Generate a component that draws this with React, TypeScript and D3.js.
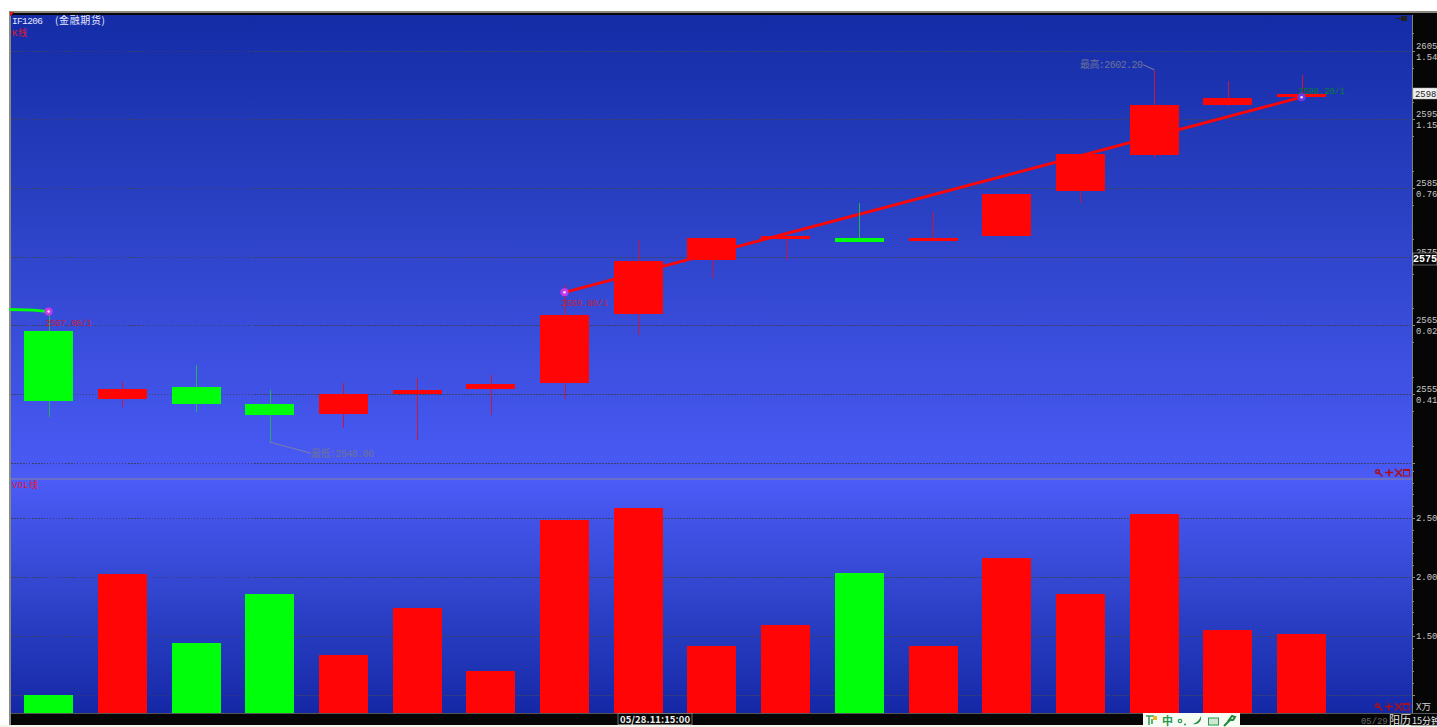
import React from "react";
import * as d3 from "d3";

const opens = [2564.1, 2554.2, 2556.0, 2553.55, 2552.1, 2555.0, 2555.7, 2556.6, 2566.65, 2574.5, 2577.7, 2577.7, 2577.35, 2578.05, 2584.5, 2589.8, 2597.05, 2598.35];
const closes = [2554.0, 2555.7, 2553.6, 2551.9, 2555.0, 2555.65, 2556.45, 2566.5, 2574.35, 2577.7, 2578.0, 2577.1, 2577.7, 2584.1, 2589.9, 2597.05, 2598.1, 2598.65];
const highs = [2567.2, 2556.75, 2559.2, 2555.6, 2556.6, 2557.3, 2557.75, 2570.9, 2577.4, 2577.7, 2578.1, 2582.8, 2581.5, 2584.1, 2589.9, 2602.2, 2600.55, 2601.5];
const lows = [2551.65, 2553.1, 2552.4, 2548.0, 2550.05, 2548.3, 2551.95, 2554.3, 2563.6, 2571.9, 2574.5, 2577.1, 2577.3, 2578.0, 2582.8, 2589.35, 2596.9, 2598.3];
const volumes = [1.0, 2.025, 1.44, 1.855, 1.34, 1.74, 1.2, 2.48, 2.585, 1.415, 1.595, 2.035, 1.415, 2.16, 1.855, 2.535, 1.55, 1.515];
const volumeUp = [false, true, false, false, true, true, true, true, true, true, true, false, true, true, true, true, true, true];
const redLineIdx = [7, 17];
const redLinePrices = [2569.8, 2598.2];
const greenLineIdx = [-0.53, -0.2, 0];
const greenLinePrices = [2567.3, 2567.2, 2567.0];
const priceGrid = [2605, 2595, 2585, 2575, 2565, 2555, 2545];
const priceTickLabels = ["2605", "2595", "2585", "2575", "2565", "2555"];
const pctTickLabels = ["1.54", "1.15", "0.76", "", "0.02", "0.41"];
const priceMinor = d3.range(2545, 2610, 5);
const volTicks = [2.5, 2.0, 1.5, 1.0];
const volTickLabels = ["2.50", "2.00", "1.50", ""];
const volMinor = [2.9, 2.8, 2.7, 2.6, 2.4, 2.3, 2.2, 2.1, 1.9, 1.8, 1.7, 1.6, 1.4, 1.3, 1.2, 1.1];

const MONO = "'Liberation Mono','Noto Sans CJK SC',monospace";
const CJK = "'Noto Sans CJK SC','Liberation Mono',monospace";

const x = d3.scaleLinear().domain([0, 17]).range([48.6, 1301.6]);
const y = d3.scaleLinear().domain([2555, 2605]).range([394, 50.5]);
const yv = d3.scaleLinear().domain([1.5, 2.5]).range([636, 518]);
const BW = 49;
const RIGHT = 1412;
const line = d3.line<[number, number]>().x(d => x(d[0])).y(d => y(d[1]));
const GREEN = "#00ff0a";
const RED = "#ff0505";

function Tools({ tx, ty }: { tx: number; ty: number }) {
  const c = "#a8101c";
  return (
    <g transform={`translate(${tx},${ty})`} fill="none" stroke={c} strokeWidth={1.6} shapeRendering="auto">
      <circle cx={2.5} cy={2.5} r={1.8} />
      <path d="M4 4L7.5 7.5" />
      <path d="M10 3.5H18M14 0V7.5" />
      <path d="M20 0L27 7.5M27 0L20 7.5" />
      <rect x={28.5} y={0.5} width={6} height={6.5} strokeWidth={1} />
      <path d="M28.5 1.5H34.5" strokeWidth={1} />
    </g>
  );
}

function Marker({ cx, cy, fill }: { cx: number; cy: number; fill: string }) {
  return (
    <g>
      <circle cx={cx} cy={cy} r={4} fill={fill} />
      <circle cx={cx} cy={cy} r={1.3} fill="#f4d8ff" />
    </g>
  );
}

function AxisText({ tx, ty, children, fill = "#c8c8c8" }: any) {
  return <text x={tx} y={ty} fontFamily={MONO} fontSize={8.9} fill={fill}>{children}</text>;
}

export default function App() {
  return (
    <svg width={1437} height={727} style={{ position: "absolute", left: 0, top: 0, background: "#fff", display: "block" }} shapeRendering="crispEdges">
      <defs>
        <linearGradient id="g1" x1="0" y1="0" x2="0" y2="1">
          <stop offset="0" stopColor="#142ca6" />
          <stop offset="0.45" stopColor="#2c42c6" />
          <stop offset="1" stopColor="#4a5bf6" />
        </linearGradient>
        <linearGradient id="g2" x1="0" y1="0" x2="0" y2="1">
          <stop offset="0" stopColor="#4c5cf8" />
          <stop offset="0.5" stopColor="#3044cc" />
          <stop offset="1" stopColor="#1428a6" />
        </linearGradient>
      </defs>

      {/* frame */}
      <rect x={0} y={725} width={1437} height={2} fill="#f5f4ea" />
      <rect x={9} y={11} width={1428} height={714} fill="#060606" />
      <rect x={9} y={11} width={1428} height={1.5} fill="#8a8a80" />
      <rect x={9} y={11} width={1.5} height={714} fill="#8a8a80" />
      <rect x={10.5} y={15} width={RIGHT - 10.5} height={463} fill="url(#g1)" />
      <rect x={10.5} y={478} width={RIGHT - 10.5} height={235} fill="url(#g2)" />
      <rect x={10.5} y={478} width={RIGHT - 10.5} height={1.5} fill="#6a70c8" />
      <rect x={10.5} y={713} width={1426} height={1} fill="#555" />
      <rect x={RIGHT} y={15} width={1} height={698} fill="#808080" />
      <path d="M10 12h4l-4 4z" fill="#e01818" />

      {/* grid */}
      <g stroke="#3a3f6e" strokeDasharray="1.5 1.5" strokeWidth={1}>
        {priceGrid.map(p => <line key={p} x1={11} x2={RIGHT} y1={Math.round(y(p))} y2={Math.round(y(p))} />)}
        {volTicks.map(v => <line key={v} x1={11} x2={RIGHT} y1={Math.round(yv(v))} y2={Math.round(yv(v))} />)}
      </g>

      {/* axis ticks */}
      <g stroke="#888" strokeWidth={1}>
        {priceMinor.map(p => <line key={p} x1={RIGHT} x2={RIGHT + 2} y1={Math.round(y(p + 2.5))} y2={Math.round(y(p + 2.5))} />)}
        {priceGrid.map(p => <line key={p} x1={RIGHT} x2={RIGHT + 3} y1={Math.round(y(p))} y2={Math.round(y(p))} />)}
        {volTicks.map(v => <line key={v} x1={RIGHT} x2={RIGHT + 3} y1={Math.round(yv(v))} y2={Math.round(yv(v))} />)}
        {volMinor.map(v => <line key={v} x1={RIGHT} x2={RIGHT + 2} y1={Math.round(yv(v))} y2={Math.round(yv(v))} />)}
      </g>

      {/* signal lines behind the candles */}
      <g shapeRendering="auto" fill="none" strokeWidth={2.8}>
        <path d={line(redLineIdx.map((d, i) => [d, redLinePrices[i]] as [number, number])) as string} stroke={RED} />
        <path d={line(greenLineIdx.map((d, i) => [d, greenLinePrices[i]] as [number, number])) as string} stroke={GREEN} />
      </g>

      {/* candles */}
      {opens.map((o, i) => {
        const c = closes[i];
        const up = c >= o;
        const col = up ? RED : GREEN;
        const top = y(Math.max(o, c));
        const bot = y(Math.min(o, c));
        const wx = Math.round(x(i)) + 0.5;
        return (
          <g key={i}>
            <line x1={wx} x2={wx} y1={y(highs[i])} y2={y(lows[i])} stroke={up ? "#c4183f" : "#22b060"} strokeWidth={1} />
            <rect x={x(i) - BW / 2} y={top} width={BW} height={Math.max(3, bot - top)} fill={col} />
          </g>
        );
      })}

      {/* volume */}
      {volumes.map((v, i) => (
        <rect key={i} x={x(i) - BW / 2} y={yv(v)} width={BW} height={713 - yv(v)} fill={volumeUp[i] ? RED : GREEN} />
      ))}

      {/* callouts */}
      <g shapeRendering="auto" fill="none" stroke="#7c80a8" strokeWidth={1}>
        <path d={`M${x(3)} ${y(lows[3])}L${x(3) + 41} ${y(lows[3]) + 11}`} />
        <path d={`M${x(15)} ${y(highs[15])}L${x(15) - 11} ${y(highs[15]) - 5}`} />
      </g>
      <g shapeRendering="auto">
        <text x={1080} y={68} fontFamily={MONO} fontSize={10} fill="#6e7298" textLength={63}>最高:2602.20</text>
        <text x={311} y={457} fontFamily={MONO} fontSize={10} fill="#6e7298" textLength={63}>最低:2548.00</text>
        <text x={45} y={326} fontFamily={MONO} fontSize={9.2} fill="#c0203c" textLength={47}>2567.00/1</text>
        <text x={561} y={306} fontFamily={MONO} fontSize={9.2} fill="#c0203c" textLength={47}>2569.80/1</text>
        <text x={1298} y={94} fontFamily={MONO} fontSize={9.2} fill="#0a7a30" textLength={47}>2598.20/1</text>
        <Marker cx={x(0)} cy={y(2567)} fill="#c838e8" />
        <Marker cx={x(7)} cy={y(2569.8)} fill="#c838e8" />
        <Marker cx={x(17)} cy={y(2598.2)} fill="#6a38e8" />

        <text x={12} y={24} fontFamily={MONO} fontSize={9.5} fill="#e4e6ff" textLength={31}>IF1206</text>
        <text x={55} y={24} fontFamily={CJK} fontSize={10} fill="#e4e6ff" textLength={50}>(金融期货)</text>
        <text x={12} y={36} fontFamily={MONO} fontSize={9} fill="#e01830" textLength={15}>K线</text>
        <text x={12} y={488} fontFamily={MONO} fontSize={9} fill="#e01830" textLength={26}>VOL线</text>

        {priceTickLabels.map((t, i) => (
          <AxisText key={t} tx={1416} ty={y(priceGrid[i]) - 2}>{t}</AxisText>
        ))}
        {pctTickLabels.map((t, i) => (
          <AxisText key={i} tx={1416} ty={y(priceGrid[i]) + 9}>{t}</AxisText>
        ))}
        {volTickLabels.map((t, i) => (
          <AxisText key={i} tx={1416} ty={yv(volTicks[i]) + 3}>{t}</AxisText>
        ))}

        <rect x={1413} y={88} width={24} height={11} fill="#f0f0f0" stroke="#aaa" strokeWidth={0.5} />
        <text x={1415} y={97} fontFamily={MONO} fontSize={8.9} fill="#222">2598</text>
        <rect x={1413} y={253} width={24} height={12} fill="#060606" stroke="#ccc" strokeWidth={0.5} />
        <text x={1413} y={262} fontFamily={MONO} fontSize={10} fontWeight="bold" fill="#fff">2575</text>

        <text x={1416} y={710} fontFamily={CJK} fontSize={9.5} fill="#d0d0d0">X万</text>

        <rect x={618} y={713.5} width={74} height={11} fill="#060606" stroke="#888" strokeWidth={0.8} />
        <text x={620} y={722.5} fontFamily={CJK} fontSize={9.5} fontWeight="bold" fill="#f0f0f0" textLength={70}>05/28.11:15:00</text>
        <text x={1361} y={724} fontFamily={MONO} fontSize={8.9} fill="#6a6a6a">05/29</text>
        <text x={1389} y={724} fontFamily={CJK} fontSize={11} fill="#e8e8e8">阳历</text>
        <text x={1412} y={724} fontFamily={CJK} fontSize={9} fill="#e8e8e8">15分钟</text>
      </g>

      <rect x={1411} y={725} width={26} height={1} fill="#aaa" />

      <Tools tx={1375} ty={469} />
      <Tools tx={1375} ty={703} />

      {/* small pin */}
      <path d="M1396 18.5h6" stroke="#222" strokeWidth={1} />
      <rect x={1401} y={16} width={6} height={5} fill="#222" />

      {/* input-method toolbar */}
      <rect x={1143} y={713} width={97} height={14} fill="#f6fbf4" />
      <g shapeRendering="auto">
        <path d="M1146 716h8M1149 716v9M1152 719v5" stroke="#3aa050" strokeWidth={1.6} fill="none" />
        <rect x={1153} y={716} width={4} height={4} fill="#e8b830" />
        <text x={1162} y={725} fontFamily={CJK} fontSize={11} fontWeight="bold" fill="#2a9a4a">中</text>
        <circle cx={1180} cy={721} r={1.7} fill="none" stroke="#2a9a4a" strokeWidth={1.2} />
        <circle cx={1185} cy={724.5} r={1} fill="#2a9a4a" />
        <path d="M1201 716c1 6-4 9-8 8 3-1 6-3 8-8z" fill="#1f8a3a" />
        <rect x={1208.5} y={718} width={10} height={7} fill="#cfe8d4" stroke="#2a9a4a" strokeWidth={1} />
        <path d="M1224 726l6-6M1229 720l3-4 3 1-2 3z" stroke="#1f8a3a" strokeWidth={2} fill="none" />
      </g>
    </svg>
  );
}
